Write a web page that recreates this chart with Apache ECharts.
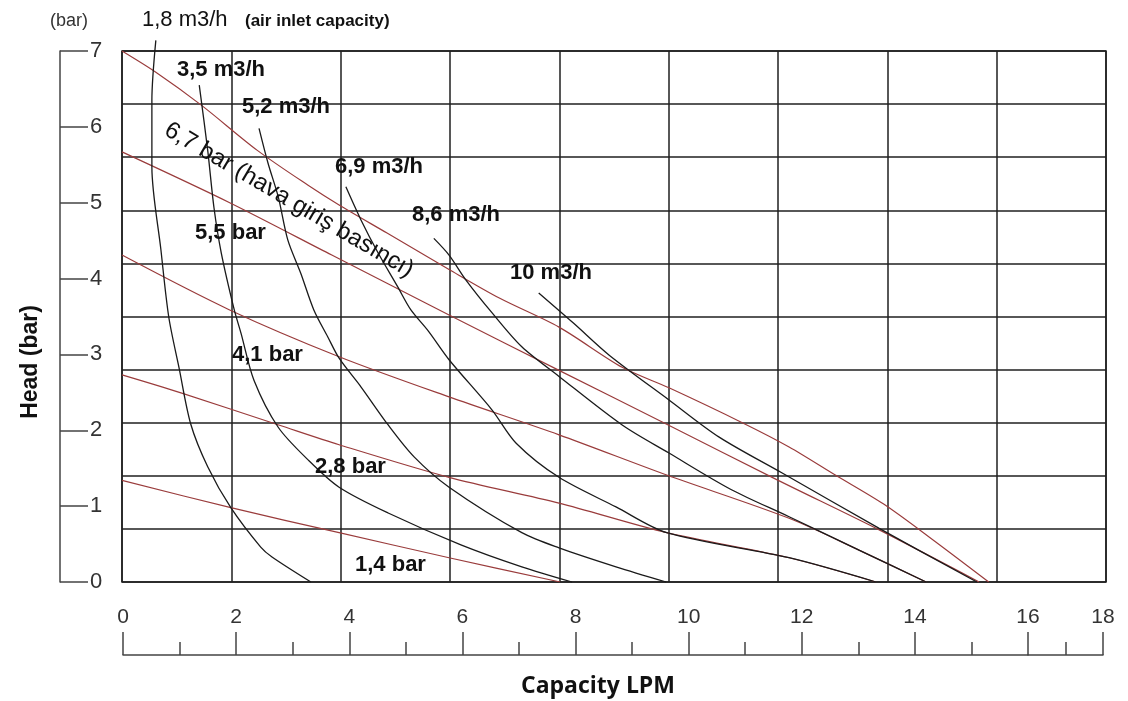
<!DOCTYPE html>
<html>
<head>
<meta charset="utf-8">
<script src="https://cdn.jsdelivr.net/npm/echarts@6/dist/echarts.min.js"></script>
<style>
html,body{margin:0;padding:0;background:#fff;}
#chart{width:1128px;height:701px;}
</style>
</head>
<body>
<div id="chart"></div>
<script>
// ---- Data (Capacity LPM, Head bar) ----
// Air inlet pressure lines (red)
const pressureNames = ['6,7 bar', '5,5 bar', '4,1 bar', '2,8 bar', '1,4 bar'];
const p67 = [[0,7.0],[0.6,6.72],[1.4,6.29],[2.4,5.69],[3.3,5.23],[3.85,4.97],[4.7,4.6],[5.8,4.12],[6.7,3.74],[7.75,3.36],[8.87,2.83],[9.7,2.56],[11.0,2.1],[11.83,1.78],[12.65,1.41],[13.5,1.03],[14.3,0.6],[15.37,0]];
const p55 = [[0,5.67],[1.91,5.0],[3.72,4.31],[5.8,3.52],[7.75,2.79],[9.66,2.08],[11.61,1.35],[13.42,0.69],[15.2,0]];
const p41 = [[0,4.31],[1.9,3.59],[3.85,2.97],[5.8,2.44],[7.75,1.94],[9.66,1.41],[11.83,0.84],[13.07,0.42],[14.26,0]];
const p28 = [[0,2.73],[1.06,2.49],[2.78,2.07],[3.85,1.81],[5.8,1.38],[7.75,1.04],[9.66,0.65],[11.83,0.32],[13.37,0]];
const p14 = [[0,1.34],[1.93,0.98],[3.85,0.65],[5.8,0.32],[7.77,0]];

// Air consumption curves (black)
const airNames = ['1,8 m3/h', '3,5 m3/h', '5,2 m3/h', '6,9 m3/h', '8,6 m3/h', '10 m3/h'];
const a18 = [[0.6,7.14],[0.53,6.35],[0.53,5.47],[0.69,4.38],[0.83,3.49],[1.01,2.83],[1.22,2.08],[1.52,1.52],[1.93,0.98],[2.46,0.46],[2.66,0.33],[3.35,0]];
const a35 = [[1.37,6.55],[1.52,5.69],[1.63,4.94],[1.76,4.34],[1.99,3.59],[2.11,3.28],[2.34,2.66],[2.77,2.04],[3.3,1.61],[3.85,1.25],[4.72,0.91],[6.01,0.49],[7.09,0.2],[7.98,0]];
const a52 = [[2.43,5.98],[2.59,5.52],[2.77,5.08],[2.94,4.51],[3.17,4.07],[3.4,3.59],[3.65,3.23],[3.85,2.95],[4.24,2.57],[4.72,2.07],[5.18,1.65],[5.8,1.25],[7.09,0.65],[7.75,0.45],[8.76,0.2],[9.65,0]];
const a69 = [[3.97,5.21],[4.24,4.77],[4.54,4.34],[4.89,3.89],[5.12,3.59],[5.43,3.31],[5.8,2.93],[6.56,2.27],[6.99,1.83],[7.75,1.38],[8.76,0.99],[9.66,0.65],[11.83,0.32],[13.37,0]];
const a86 = [[5.53,4.53],[5.8,4.31],[6.1,3.98],[6.56,3.55],[7.09,3.1],[7.75,2.71],[8.87,2.07],[9.7,1.7],[10.8,1.22],[11.83,0.86],[13.07,0.42],[14.26,0]];
const a10 = [[7.39,3.81],[8.01,3.41],[8.64,2.99],[9.7,2.4],[10.59,1.91],[11.7,1.44],[13.42,0.71],[15.16,0]];

// Axis ticks
const yMin = 0, yMax = 7, yStep = 1;
const xMin = 0, xMainMax = 16, xEndMax = 18, xStep = 2;

const FONT = "'Liberation Sans', Arial, sans-serif";
const RED = '#9a3c3c';
const BLACK = '#1a1a1a';
const GRID = '#1f1f1f';
const AXIS = '#444';

const pressureData = [p67, p55, p41, p28, p14];
const airData = [a18, a35, a52, a69, a86, a10];

const series = [];
pressureData.forEach((d, i) => series.push({
  name: pressureNames[i], type: 'line', xAxisIndex: 1, yAxisIndex: 0,
  data: d, symbol: 'none', smooth: 0.3, silent: true,
  lineStyle: { color: RED, width: 1.2 }, z: 3
}));
airData.forEach((d, i) => series.push({
  name: airNames[i], type: 'line', xAxisIndex: 1, yAxisIndex: 0,
  data: d, symbol: 'none', smooth: 0.3, silent: true, clip: false,
  lineStyle: { color: BLACK, width: 1.3 }, z: 4
}));

const lowerAxisCommon = {
  type: 'value', interval: xStep,
  axisLine: { show: true, lineStyle: { color: AXIS, width: 1.5 } },
  axisTick: { show: true, inside: true, length: 23, lineStyle: { color: AXIS, width: 1.5 } },
  minorTick: { show: true, splitNumber: 2, length: 13, lineStyle: { color: AXIS, width: 1.5 } },
  axisLabel: { inside: true, margin: 27, fontSize: 21, color: '#333', fontFamily: FONT },
  splitLine: { show: false }, minorSplitLine: { show: false }
};

function txt(text, x, y, size, weight, extra) {
  return Object.assign({
    type: 'text', x: x, y: y, silent: true, z: 10,
    style: Object.assign({
      text: text, fill: '#111', fontSize: size, fontWeight: weight || 'normal',
      fontFamily: FONT, align: 'left', verticalAlign: 'middle'
    }, (extra && extra.style) || {})
  }, extra ? { rotation: extra.rotation || 0 } : {});
}

const option = {
  backgroundColor: '#fff',
  animation: false,
  grid: [
    { left: 122, right: 22, top: 51, bottom: 119, show: true, borderColor: GRID, borderWidth: 1.5 },
    { left: 123, right: 100, top: 600, height: 55 },
    { left: 1028, right: 25, top: 600, height: 55 },
    { left: 60, width: 30, top: 51, bottom: 119 }
  ],
  xAxis: [
    { gridIndex: 0, type: 'value', min: 0, max: 9, interval: 1,
      axisLabel: { show: false }, axisTick: { show: false }, axisLine: { show: false },
      splitLine: { show: true, lineStyle: { color: GRID, width: 1.5 } } },
    { gridIndex: 0, type: 'value', min: xMin, max: 17.45, show: false },
    Object.assign({}, lowerAxisCommon, { gridIndex: 1, min: xMin, max: xMainMax }),
    Object.assign({}, lowerAxisCommon, { gridIndex: 2, min: xMainMax, max: xEndMax,
      axisLabel: Object.assign({}, lowerAxisCommon.axisLabel, { formatter: v => v === xEndMax ? String(v) : '' }) }),
    { gridIndex: 3, type: 'value', show: false }
  ],
  yAxis: [
    { gridIndex: 0, type: 'value', min: yMin, max: yMax, interval: 0.7,
      axisLabel: { show: false }, axisTick: { show: false }, axisLine: { show: false },
      splitLine: { show: true, lineStyle: { color: GRID, width: 1.5 } } },
    { gridIndex: 1, type: 'value', show: false },
    { gridIndex: 2, type: 'value', show: false },
    { gridIndex: 3, type: 'value', min: yMin, max: yMax, interval: yStep, position: 'left',
      axisLine: { show: true, lineStyle: { color: AXIS, width: 1.5 } },
      axisTick: { show: true, inside: true, length: 28, lineStyle: { color: AXIS, width: 1.5 } },
      axisLabel: { inside: true, margin: 30, fontSize: 22, color: '#333', fontFamily: FONT },
      splitLine: { show: false } }
  ],
  graphic: [
    txt('(bar)', 50, 21, 18, 'normal', { style: { fill: '#333' } }),
    txt('1,8 m3/h', 142, 20, 22, 'normal'),
    txt('(air inlet capacity)', 245, 21, 17, 'bold'),
    txt('3,5 m3/h', 177, 70, 22, 'bold'),
    txt('5,2 m3/h', 242, 107, 22, 'bold'),
    txt('6,9 m3/h', 335, 167, 22, 'bold'),
    txt('8,6 m3/h', 412, 215, 22, 'bold'),
    txt('10 m3/h', 510, 273, 22, 'bold'),
    txt('5,5 bar', 195, 233, 22, 'bold'),
    txt('4,1 bar', 232, 355, 22, 'bold'),
    txt('2,8 bar', 315, 467, 22, 'bold'),
    txt('1,4 bar', 355, 565, 22, 'bold'),
    txt('6,7 bar (hava giriş basıncı)', 289, 200, 24, 'normal', { rotation: -0.53, style: { align: 'center' } }),
    txt('Head (bar)', 31, 362, 23, 'bold', { rotation: Math.PI / 2, style: { align: 'center' } }),
    txt('Capacity LPM', 598, 686, 23, 'bold', { style: { align: 'center', fontFamily: "'Open Sans', sans-serif" } })
  ],
  series: series
};

const chart = echarts.init(document.getElementById('chart'), null, { renderer: 'canvas' });
chart.setOption(option);
</script>
</body>
</html>
